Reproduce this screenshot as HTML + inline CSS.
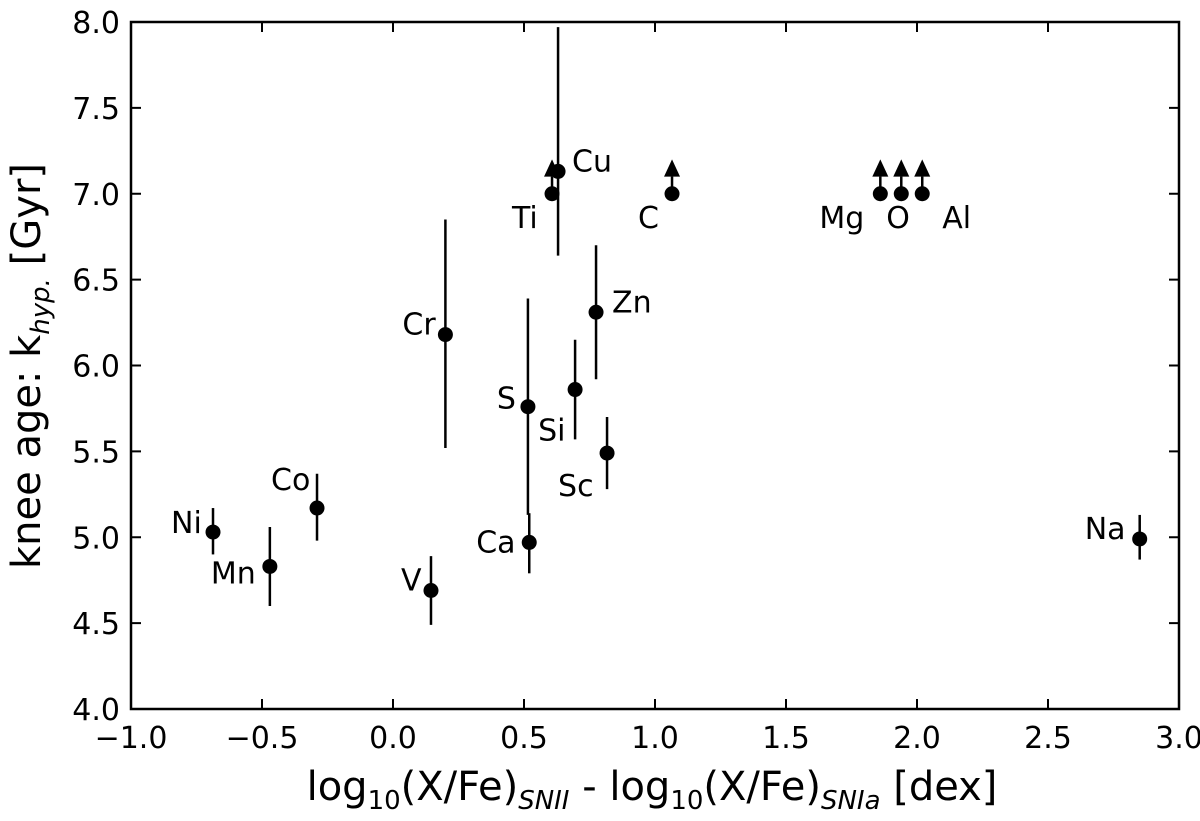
<!DOCTYPE html>
<html><head><meta charset="utf-8"><style>
body{margin:0;background:#fff}
svg text{font-family:"DejaVu Sans","Liberation Sans",sans-serif;fill:#000}
</style></head><body>
<svg width="1200" height="816" xmlns="http://www.w3.org/2000/svg">
<g id="plot"></g>
<text x="652" y="800" font-size="40" text-anchor="middle">log<tspan font-size="26" dy="9">10</tspan><tspan dy="-9">(X/Fe)</tspan><tspan font-size="26" font-style="italic" dy="9">SNII</tspan><tspan dy="-9"> - log</tspan><tspan font-size="26" dy="9">10</tspan><tspan dy="-9">(X/Fe)</tspan><tspan font-size="26" font-style="italic" dy="9">SNIa</tspan><tspan dy="-9"> [dex]</tspan></text>
<text transform="translate(40,366) rotate(-90)" font-size="40" text-anchor="middle">knee age: k<tspan font-size="26" font-style="italic" dy="9">hyp.</tspan><tspan dy="-9"> [Gyr]</tspan></text>
</svg>
<script>
const names=["Ni","Mn","Co","V","Cr","S","Ca","Ti","Cu","Si","Zn","Sc","C","Mg","O","Al","Na"];
const xs=[-0.687,-0.47,-0.29,0.145,0.20,0.515,0.52,0.607,0.63,0.695,0.775,0.817,1.065,1.86,1.94,2.02,2.85];
const ys=[5.03,4.83,5.17,4.69,6.18,5.76,4.97,7.0,7.13,5.86,6.31,5.49,7.0,7.0,7.0,7.0,4.99];
const lo=[4.9,4.6,4.98,4.49,5.52,5.13,4.79,null,6.64,5.57,5.92,5.28,null,null,null,null,4.87];
const hi=[5.17,5.06,5.37,4.89,6.85,6.39,5.14,null,7.97,6.15,6.70,5.70,null,null,null,null,5.13];
const limits=[false,false,false,false,false,false,false,true,false,false,false,false,true,true,true,true,false];
const xTicks=[-1.0,-0.5,0.0,0.5,1.0,1.5,2.0,2.5,3.0];
const yTicks=[4.0,4.5,5.0,5.5,6.0,6.5,7.0,7.5,8.0];
const labOff=[[-42,1],[-59,17],[-46,-18],[-30,0],[-43,0],[-31,2],[-53,10],[-40,34],[14,0],[-37,51],[16,0],[-49,43],[-34,34],[-61,34],[-15,34],[20,34],[-55,0]];
const X=v=>131+(v+1)*262, Y=v=>709-(v-4)*171.75;
const NS="http://www.w3.org/2000/svg", g=document.getElementById('plot');
function mk(t,a){const e=document.createElementNS(NS,t);for(const k in a)e.setAttribute(k,a[k]);g.appendChild(e);return e;}
const frame=mk('rect',{x:131,y:22,width:1048,height:687,fill:'none',stroke:'#000','stroke-width':2.5});


xTicks.forEach(t=>{const x=X(t);
 mk('line',{x1:x,x2:x,y1:709,y2:699,stroke:'#000','stroke-width':2});
 mk('line',{x1:x,x2:x,y1:22,y2:32,stroke:'#000','stroke-width':2});
 const e=mk('text',{x:x,y:748,'font-size':30,'text-anchor':'middle'});e.textContent=t.toFixed(1).replace('-','\u2212');
 
 });
yTicks.forEach(t=>{const y=Y(t);
 mk('line',{x1:131,x2:141,y1:y,y2:y,stroke:'#000','stroke-width':2});
 mk('line',{x1:1179,x2:1169,y1:y,y2:y,stroke:'#000','stroke-width':2});
 const e=mk('text',{x:120,y:y+11,'font-size':30,'text-anchor':'end'});e.textContent=t.toFixed(1);
 
 });
names.forEach((n,i)=>{const x=X(xs[i]),y=Y(ys[i]);
 if(limits[i]){
  mk('line',{x1:x,x2:x,y1:y,y2:Y(ys[i]+0.1),stroke:'#000','stroke-width':2.5});
  mk('polygon',{points:`${x-8},${Y(ys[i]+0.1)} ${x+8},${Y(ys[i]+0.1)} ${x},${Y(ys[i]+0.2)}`,fill:'#000'});
 } else {
  const eb=mk('line',{x1:x,x2:x,y1:Y(lo[i]),y2:Y(hi[i]),stroke:'#000','stroke-width':2.5});
  
  
 }
 const c=mk('circle',{cx:x,cy:y,r:7.5,fill:'#000'});
 
 
 const l=mk('text',{x:x+labOff[i][0],y:y+labOff[i][1],'font-size':30});l.textContent=n;
 
 
});
</script>
</body></html>
